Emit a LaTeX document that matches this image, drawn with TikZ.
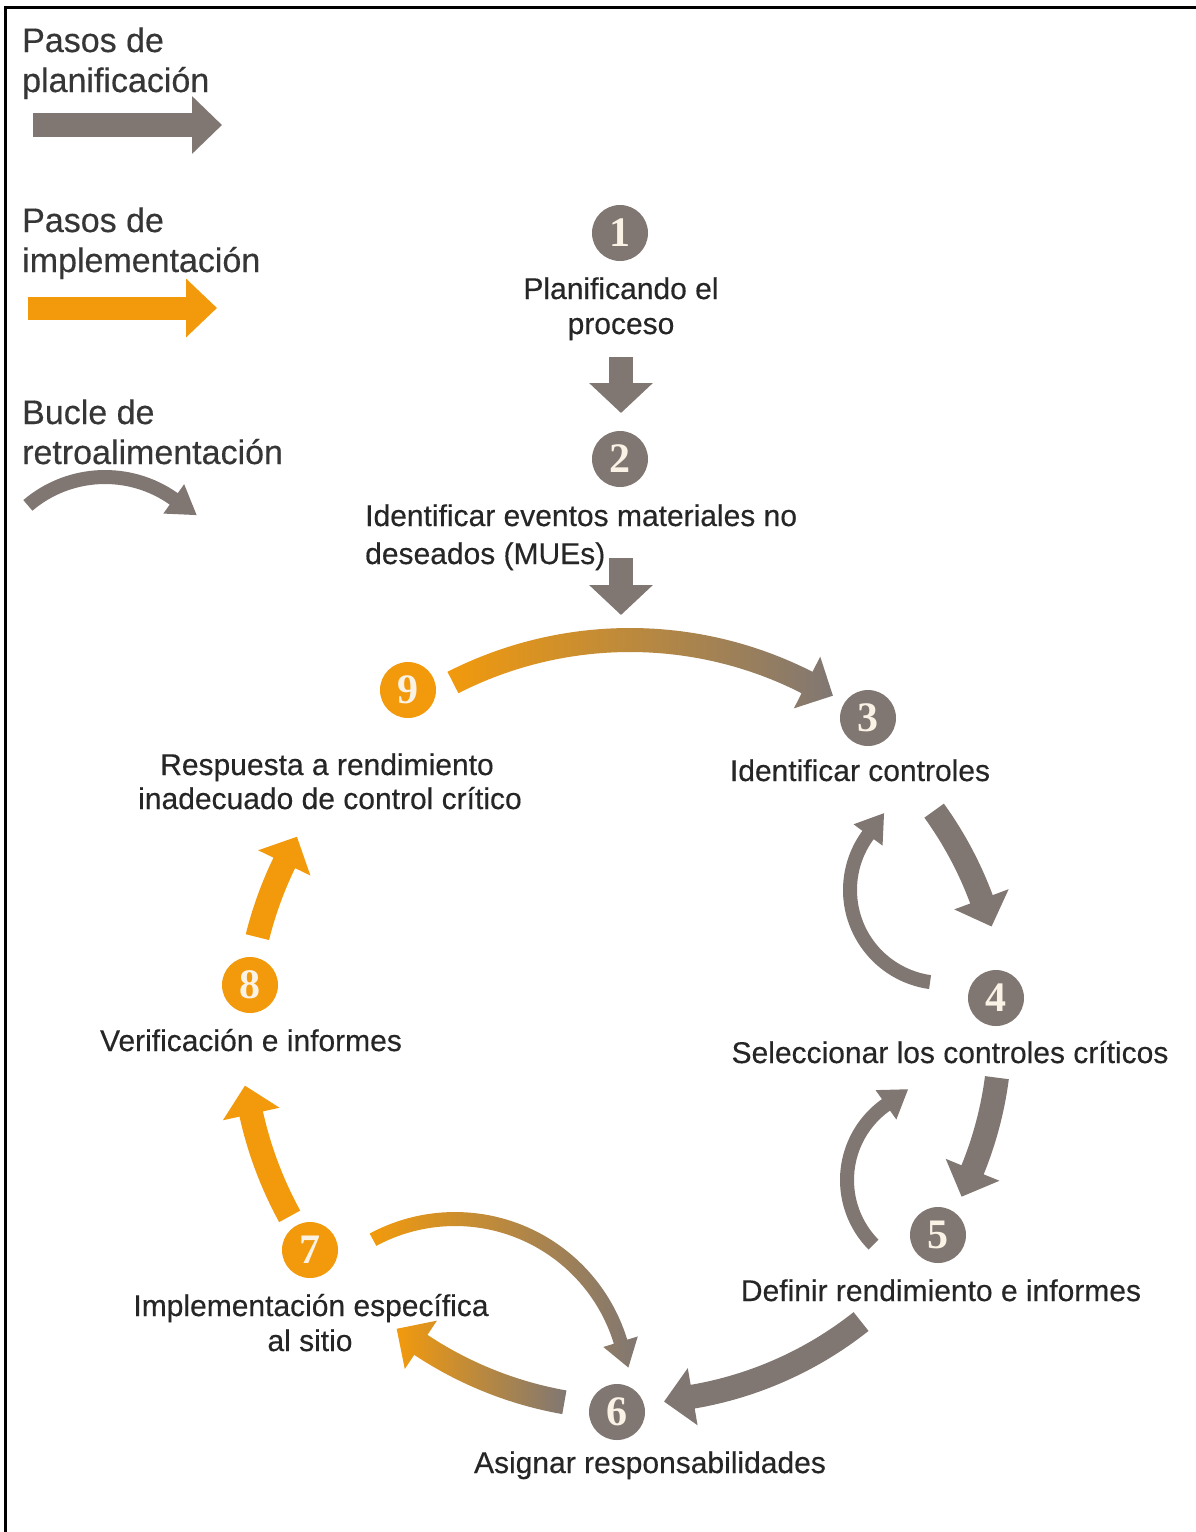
\documentclass[tikz,border=0pt]{standalone}
\usepackage{fontspec}
\setmainfont{Liberation Sans}[FakeBold=0.35]
\newfontfamily\numfont{Liberation Serif}
\usetikzlibrary{arrows.meta}
\definecolor{cgrey}{HTML}{807773}
\definecolor{corange}{HTML}{F29A0C}
\definecolor{ctext}{HTML}{262626}
\definecolor{clegtext}{HTML}{363636}
\definecolor{cnum}{HTML}{FBF2E6}
% arc arrow: #1 style, #2 cx, #3 cy, #4 R, #5 start angle, #6 end angle, #7 half shaft, #8 half head, #9 head length
\newcommand\arcarrow[9]{%
  \pgfmathsetmacro\aaRo{#4+#7}%
  \pgfmathsetmacro\aaRi{#4-#7}%
  \pgfmathsetmacro\aaHo{#4+#8}%
  \pgfmathsetmacro\aaHi{#4-#8}%
  \pgfmathsetmacro\aaT{#6+ifthenelse(#6>#5,90,-90)}%
  \path[#1] ({#2+\aaRo*cos(#5)},{#3+\aaRo*sin(#5)})
     arc[start angle=#5,end angle=#6,radius=\aaRo]
     -- ({#2+\aaHo*cos(#6)},{#3+\aaHo*sin(#6)})
     -- ({#2+#4*cos(#6)+#9*cos(\aaT)},{#3+#4*sin(#6)+#9*sin(\aaT)})
     -- ({#2+\aaHi*cos(#6)},{#3+\aaHi*sin(#6)})
     -- ({#2+\aaRi*cos(#6)},{#3+\aaRi*sin(#6)})
     arc[start angle=#6,end angle=#5,radius=\aaRi] -- cycle;}
\begin{document}
\begin{tikzpicture}[x=1pt,y=-1pt,
  lbl/.style={font=\fontsize{30}{35}\selectfont, text=ctext, inner sep=0pt, anchor=base},
  leg/.style={font=\fontsize{34}{40}\selectfont, text=clegtext, inner sep=0pt, anchor=base west},
  numg/.style={circle, fill=cgrey, minimum size=56pt, inner sep=0pt, text=cnum, font=\numfont\bfseries\fontsize{42}{42}\selectfont},
  numo/.style={numg, fill=corange},
  plan/.style={draw=cgrey, line width=24pt, -{Triangle[length=30pt,width=62pt]}},
  impl/.style={draw=corange, line width=23pt, -{Triangle[length=31pt,width=57pt]}},
  gfill/.style={fill=cgrey},
  ofill/.style={fill=corange},
  go/.style={left color=corange, right color=cgrey}]
\useasboundingbox (0,0) rectangle (1196,1532);
\fill[white] (0,0) rectangle (1196,1532);
\draw[line width=3pt] (5,1532) -- (5,7) -- (1196,7);

% legend
\node[leg] (l1a) at (22,52) {Pasos de};
\node[leg] (l1b) at (22,92) {planificación};
\coordinate (lg1s) at (33,125);
\coordinate (lg1e) at (222,125);
\draw[plan,-{Triangle[length=30pt,width=56pt]}] (lg1s) -- (lg1e);
\node[leg] (l2a) at (22,232) {Pasos de};
\node[leg] (l2b) at (22,272) {implementación};
\coordinate (lg2s) at (28,308);
\coordinate (lg2e) at (217,308);
\draw[impl] (lg2s) -- (lg2e);
\node[leg] (l3a) at (22,424) {Bucle de};
\node[leg] (l3b) at (22,464) {retroalimentación};
\arcarrow{gfill}{105}{596}{119}{-130.4}{-54.7}{7}{18}{28}

% planning chain
\node[numg] (n1) at (620,233) {1};
\node[lbl] (t1a) at (621,299) {Planificando el};
\node[lbl] (t1b) at (621,334) {proceso};
\coordinate (a12s) at (621,357);
\coordinate (a12e) at (621,413);
\draw[plan] (a12s) -- (a12e);
\node[numg] (n2) at (620,459) {2};
\node[lbl,anchor=base west] (t2a) at (365,526) {Identificar eventos materiales no};
\node[lbl,anchor=base west] (t2b) at (365,564) {deseados (MUEs)};
\coordinate (a23s) at (621,558);
\coordinate (a23e) at (621,615);
\draw[plan] (a23s) -- (a23e);

% main cycle arrows (centre 630,1030)
\arcarrow{go}{630}{1030}{390}{-117}{-63}{12}{29}{29}
\arcarrow{gfill}{630}{1030}{375}{-35.8}{-20.4}{12}{29}{29}
\arcarrow{gfill}{630}{1030}{370}{7.4}{22.2}{12}{29}{29}
\arcarrow{gfill}{630}{1030}{372}{51.6}{80.3}{12}{29}{29}
\arcarrow{go}{630}{1030}{378}{100}{123.6}{12}{29}{29}
\arcarrow{ofill}{630}{1030}{388}{151.3}{167.5}{12}{29}{29}
\arcarrow{ofill}{630}{1030}{384}{194}{205.8}{12}{29}{29}

% feedback loops
\arcarrow{gfill}{943}{890}{93}{98}{216.3}{7}{18}{27}
\arcarrow{gfill}{939}{1180}{92}{135.4}{234.8}{7}{18}{27}
\arcarrow{go}{455}{1392}{173}{-118.3}{-16.9}{7}{18}{27}

% cycle nodes
\node[numg] (n3) at (868,718) {3};
\node[lbl] (t3) at (860,781) {Identificar controles};
\node[numg] (n4) at (996,998) {4};
\node[lbl] (t4) at (950,1063) {Seleccionar los controles críticos};
\node[numg] (n5) at (938,1235) {5};
\node[lbl] (t5) at (941,1301) {Definir rendimiento e informes};
\node[numg] (n6) at (617,1412) {6};
\node[lbl] (t6) at (650,1473) {Asignar responsabilidades};
\node[numo] (n7) at (310,1250) {7};
\node[lbl] (t7a) at (311,1316) {Implementación específica};
\node[lbl] (t7b) at (310,1351) {al sitio};
\node[numo] (n8) at (250,985) {8};
\node[lbl] (t8) at (251,1051) {Verificación e informes};
\node[numo] (n9) at (408,690) {9};
\node[lbl] (t9a) at (327,775) {Respuesta a rendimiento};
\node[lbl] (t9b) at (330,809) {inadecuado de control crítico};
\end{tikzpicture}
\end{document}
